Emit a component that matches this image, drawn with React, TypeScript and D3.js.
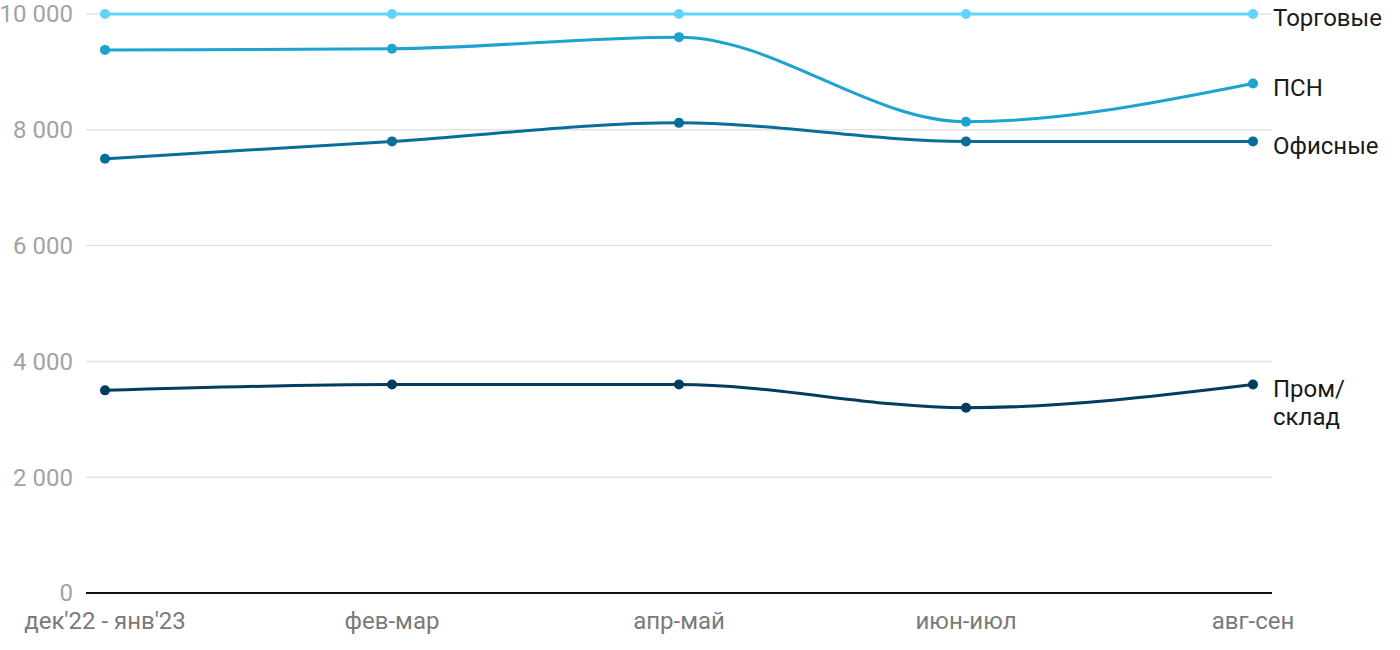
import React from "react";
import * as d3 from "d3";

const categories = ["дек'22 - янв'23", "фев-мар", "апр-май", "июн-июл", "авг-сен"];
const seriesNames = ["Торговые", "ПСН", "Офисные", "Пром/\nсклад"];
const torgovye = [10000, 10000, 10000, 10000, 10000];
const psn = [9380, 9400, 9600, 8140, 8800];
const ofisnye = [7500, 7800, 8120, 7800, 7800];
const prom = [3500, 3600, 3600, 3200, 3600];
const seriesColors = ["#62d3f9", "#1ca3d0", "#076d99", "#033c5e"];
const yTicks = [0, 2000, 4000, 6000, 8000, 10000];

const W = 1400;
const H = 650;

export default function App() {
  const allSeries = [torgovye, psn, ofisnye, prom];
  const x = d3.scalePoint<string>().domain(categories).range([105, 1253]);
  const y = d3.scaleLinear().domain([0, 10000]).range([593, 14]);
  const line = d3
    .line<number>()
    .x((_, i) => x(categories[i]) as number)
    .y((d) => y(d))
    .curve(d3.curveMonotoneX);
  const fmt = (v: number) => d3.format(",")(v).replace(/,/g, " ");
  return (
    <svg
      width={W}
      height={H}
      style={{ position: "absolute", left: 0, top: 0, fontFamily: "Roboto, sans-serif" }}
    >
      {yTicks.map((t) => (
        <g key={t}>
          {t !== 0 && (
            <line x1={86} x2={1272} y1={y(t)} y2={y(t)} stroke="#e2e2e2" strokeWidth={1.5} />
          )}
          <text x={73} y={y(t)} dy="0.35em" textAnchor="end" fontSize={24} fill="#a3a3a3">
            {fmt(t)}
          </text>
        </g>
      ))}
      <line x1={86} x2={1272} y1={y(0)} y2={y(0)} stroke="#111" strokeWidth={2} />
      {categories.map((c) => (
        <text key={c} x={x(c)} y={621} dy="0.35em" textAnchor="middle" fontSize={24} fill="#7a7a7a">
          {c}
        </text>
      ))}
      {allSeries.map((s, si) => (
        <g key={si}>
          <path d={line(s) || ""} fill="none" stroke={seriesColors[si]} strokeWidth={3} />
          {s.map((v, i) => (
            <circle key={i} cx={x(categories[i])} cy={y(v)} r={5} fill={seriesColors[si]} />
          ))}
          <text x={1273} y={y(s[s.length - 1]) + 4} fontSize={24} fill="#1a1a1a">
            {seriesNames[si].split("\n").map((ln, li) => (
              <tspan key={li} x={1273} dy={li === 0 ? "0.35em" : 28}>
                {ln}
              </tspan>
            ))}
          </text>
        </g>
      ))}
    </svg>
  );
}
